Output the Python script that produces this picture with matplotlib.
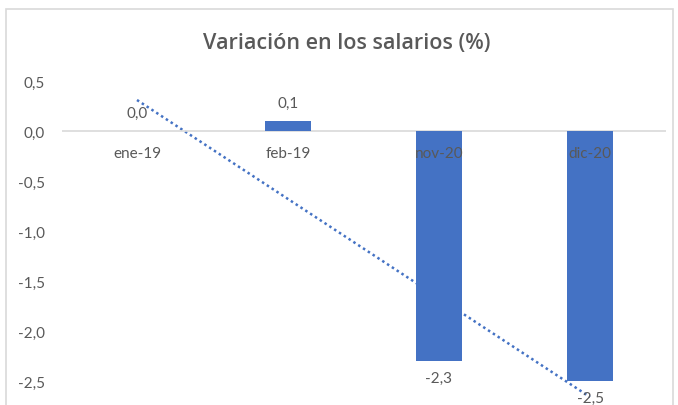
import matplotlib
matplotlib.use("Agg")
import matplotlib.pyplot as plt
import numpy as np
from matplotlib.patches import Rectangle

categories = ["ene-19", "feb-19", "nov-20", "dic-20"]
values = [0.0, 0.1, -2.3, -2.5]
yticks = [0.5, 0.0, -0.5, -1.0, -1.5, -2.0, -2.5]
title = "Variación en los salarios (%)"

plt.rcParams['font.family'] = ['Lato', 'DejaVu Sans']
grey = "#595959"
blue = "#4472C4"

W, H = 678, 406
fig = plt.figure(figsize=(W/100, H/100), dpi=100)
ax = fig.add_axes([61.5/W, 0, 604/W, 324/H])
x = np.arange(len(categories))
ax.set_xlim(-0.5, len(categories) - 0.5)
ax.set_ylim(-2.74, 0.5)

# trendline (linear fit of the series)
coef = np.polyfit(x, values, 1)
tx = np.array([x[0], x[-1]])
ax.plot(tx, np.polyval(coef, tx), linestyle=(0, (1, 1.3)), color=blue, lw=1.8, zorder=1)

ax.bar(x, values, width=0.31, color=blue, zorder=2)
ax.axhline(0, color="#D9D9D9", lw=1.2, zorder=1.5)

for xi, v in zip(x, values):
    lab = f"{v:.1f}".replace(".", ",")
    if v >= 0:
        ax.annotate(lab, (xi, v), xytext=(0, 8), textcoords="offset points",
                    ha="center", va="bottom", fontsize=11, color=grey, zorder=4)
    else:
        ax.annotate(lab, (xi, v), xytext=(0, -7), textcoords="offset points",
                    ha="center", va="top", fontsize=11, color=grey, zorder=4)
    ax.annotate(categories[xi], (xi, 0), xytext=(0, -16), textcoords="offset points",
                ha="center", va="center", fontsize=11, color=grey, zorder=4)

ax.set_yticks(yticks)
ax.set_yticklabels([f"{t:.1f}".replace(".", ",") for t in yticks], fontsize=11, color=grey)
ax.tick_params(axis="y", length=0, pad=12)
ax.set_xticks([])
for s in ax.spines.values():
    s.set_visible(False)
ax.patch.set_alpha(0)

fig.text(347/W, 1 - 44/H, title, ha="center", va="center", fontsize=15.5,
         color=grey, family=["Open Sans", "DejaVu Sans"], fontweight="semibold")
fig.patches.append(Rectangle((6/W, -0.1), 667/W, 1 - 10/H + 0.1, transform=fig.transFigure,
                             fill=False, edgecolor="#D9D9D9", lw=1.2))

fig.savefig("out.png", dpi=100)
